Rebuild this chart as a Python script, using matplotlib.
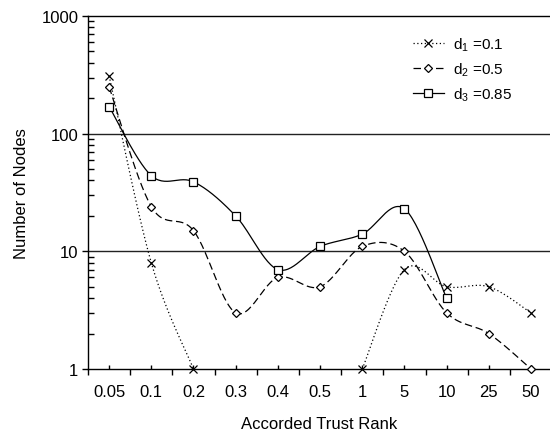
import numpy as np
import matplotlib
matplotlib.use("Agg")
import matplotlib.pyplot as plt
from matplotlib.ticker import FixedLocator, NullFormatter

plt.rcParams["font.family"] = ["Liberation Sans", "DejaVu Sans"]
plt.rcParams["mathtext.fontset"] = "custom"
plt.rcParams["mathtext.rm"] = "Liberation Sans"
plt.rcParams["mathtext.it"] = "Liberation Sans"

ranks = ["0.05", "0.1", "0.2", "0.3", "0.4", "0.5", "1", "5", "10", "25", "50"]
d1 = [310, 8, 1, np.nan, np.nan, np.nan, 1, 7, 5, 5, 3]
d2 = [250, 24, 15, 3, 6, 5, 11, 10, 3, 2, 1]
d3 = [170, 44, 39, 20, 7, 11, 14, 23, 4, np.nan, np.nan]

labels = [r"$\mathregular{d_1}$ =0.1", r"$\mathregular{d_2}$ =0.5", r"$\mathregular{d_3}$ =0.85"]

FS = 12


def smooth(xs, ys, n=30):
    # catmull-rom through the points, done in log space like excel's smoothed lines
    px = np.asarray(xs, float)
    py = np.log10(np.asarray(ys, float))
    if len(px) < 2:
        return px, 10 ** py
    ex = np.r_[px[0], px, px[-1]]
    ey = np.r_[py[0], py, py[-1]]
    outx, outy = [], []
    t = np.linspace(0, 1, n)
    for i in range(1, len(ex) - 2):
        p0 = np.array([ex[i], ey[i]])
        p3 = np.array([ex[i + 1], ey[i + 1]])
        c1 = p0 + (np.array([ex[i + 1], ey[i + 1]]) - np.array([ex[i - 1], ey[i - 1]])) / 6
        c2 = p3 - (np.array([ex[i + 2], ey[i + 2]]) - np.array([ex[i], ey[i]])) / 6
        b = ((1 - t) ** 3)[:, None] * p0 + (3 * (1 - t) ** 2 * t)[:, None] * c1 \
            + (3 * (1 - t) * t ** 2)[:, None] * c2 + (t ** 3)[:, None] * p3
        outx.extend(b[:, 0])
        outy.extend(b[:, 1])
    return np.array(outx), 10 ** np.array(outy)


def draw(ax, vals, ls, marker, ms, label):
    x = np.arange(len(vals))
    v = np.array(vals, float)
    ok = ~np.isnan(v)
    # split into runs without gaps
    runs, cur = [], []
    for i in range(len(v)):
        if ok[i]:
            cur.append(i)
        elif cur:
            runs.append(cur)
            cur = []
    if cur:
        runs.append(cur)
    for r in runs:
        sx, sy = smooth(x[r], v[r])
        ax.plot(sx, sy, color="black", lw=0.9, linestyle=ls, clip_on=False)
    ax.plot(x[ok], v[ok], linestyle="none", marker=marker, ms=ms, mfc="white",
            mec="black", mew=0.9, color="black", clip_on=False, zorder=4)
    ax.plot([], [], color="black", lw=0.9, linestyle=ls, marker=marker, ms=ms,
            mfc="white", mec="black", mew=0.9, label=label)


fig = plt.figure(figsize=(5.5, 4.35), dpi=100)
ax = fig.add_axes([88 / 550, 1 - 370 / 435, 462 / 550, 353 / 435])

draw(ax, d1, (0, (1, 2)), "x", 5.5, labels[0])
draw(ax, d2, (0, (6, 3)), "D", 3.8, labels[1])
draw(ax, d3, "-", "s", 5.6, labels[2])

ax.set_yscale("log")
ax.set_ylim(1, 1000)
ax.set_xlim(-0.5, 10.45)

for yv in [10, 100]:
    ax.axhline(yv, color="#222222", lw=1.0, zorder=1)

ax.spines["right"].set_visible(False)
for s in ["left", "bottom", "top"]:
    ax.spines[s].set_linewidth(1.0)

ax.yaxis.set_major_locator(FixedLocator([1, 10, 100, 1000]))
ax.set_yticklabels(["1", "10", "100", "1000"])
ax.yaxis.set_minor_locator(FixedLocator([m * 10 ** k for k in range(3) for m in range(2, 10)]))
ax.yaxis.set_minor_formatter(NullFormatter())
ax.tick_params(axis="y", which="major", direction="out", length=4, width=1, labelsize=FS, pad=3)
ax.tick_params(axis="y", which="minor", direction="in", length=4, width=1)

ax.xaxis.set_major_locator(FixedLocator(np.arange(-0.5, 10.6, 1)))
ax.xaxis.set_major_formatter(NullFormatter())
ax.xaxis.set_minor_locator(FixedLocator(np.arange(len(ranks))))
ax.set_xticklabels(ranks, minor=True)
ax.tick_params(axis="x", which="major", direction="out", length=4, width=1)
ax.tick_params(axis="x", which="minor", direction="in", length=3, width=1, labelsize=FS, pad=11)

ax.set_xlabel("Accorded Trust Rank", fontsize=FS, labelpad=12)
ax.set_ylabel("Number of Nodes", fontsize=FS, labelpad=9)

ax.legend(loc="upper left", bbox_to_anchor=((413 - 88) / 462, 0.945), frameon=False,
          fontsize=11, borderpad=0, borderaxespad=0,
          handlelength=2.0, labelspacing=0.5, handletextpad=0.6)

fig.savefig("out.png", dpi=100)
